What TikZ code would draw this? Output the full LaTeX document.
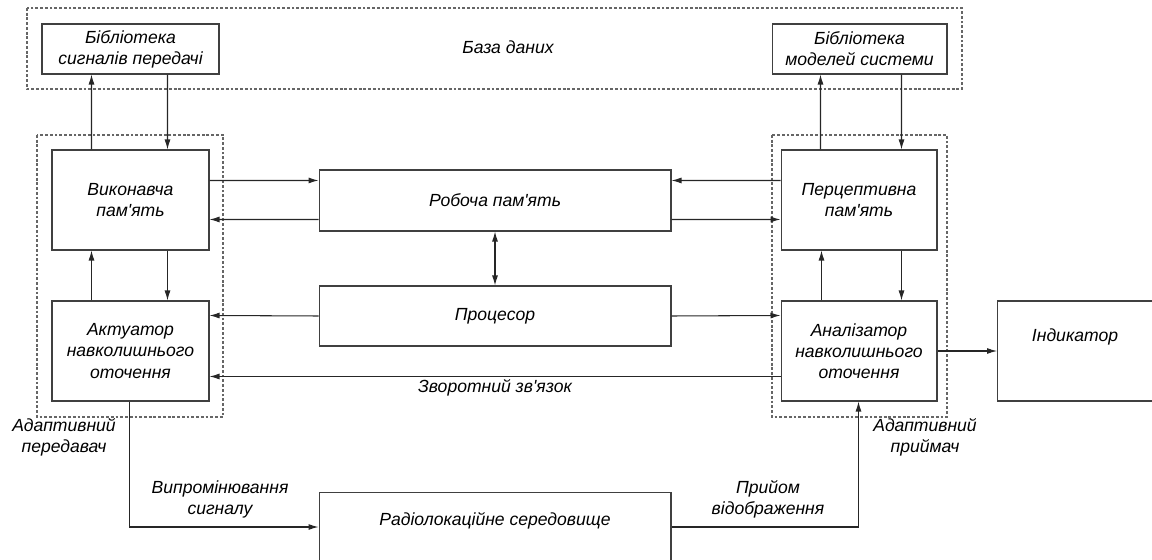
\documentclass[tikz,border=0pt]{standalone}
\usepackage{fontspec}
\setmainfont{Liberation Sans}[Ligatures=TeXOff]
\usetikzlibrary{arrows.meta,calc}

\begin{document}
\begin{tikzpicture}[x=0.02cm,y=-0.02cm,
  font=\fontsize{10}{12}\selectfont\itshape,
  blk/.style={draw=black!75, line width=0.6pt, align=center, inner sep=0pt},
  grp/.style={draw=black!60, line width=0.6pt, dash pattern=on 1.6pt off 1.1pt},
  link/.style={draw=black!85, line width=0.6pt, -{Latex[length=2mm,width=1.2mm]}},
  lbl/.style={align=center, inner sep=0pt}]
\useasboundingbox (0,0) rectangle (1152,560);
\clip (0,0) rectangle (1152,560);

% grouping frames
\draw[grp] (27,8) rectangle (962,89);
\draw[grp] (37,135) rectangle (223,417);
\draw[grp] (772,135) rectangle (947,417);

% database
\node[blk, minimum width=3.54cm, minimum height=1cm] (libS) at (130.5,49) {Бібліотека\\сигналів передачі};
\node[blk, minimum width=3.5cm, minimum height=1cm] (libM) at (859.5,49) {Бібліотека\\моделей системи};
\node[lbl] (db) at (508,47) {База даних};

% transmitter side
\node[blk, minimum width=3.14cm, minimum height=2cm] (exec) at (130.5,200) {Виконавча\\пам'ять};
\node[blk, minimum width=3.14cm, minimum height=2cm] (act) at (130.5,351) {Актуатор\\навколишнього\\оточення};

% central blocks
\node[blk, minimum width=7.04cm, minimum height=1.22cm] (work) at (495,200.5) {Робоча пам'ять};
\node[blk, minimum width=7.04cm, minimum height=1.2cm] (proc) at (495,316) {Процесор};

% receiver side
\node[blk, minimum width=3.12cm, minimum height=2cm] (perc) at (859,200) {Перцептивна\\пам'ять};
\node[blk, minimum width=3.12cm, minimum height=2cm] (anal) at (859,351) {Аналізатор\\навколишнього\\оточення};

% indicator and radar environment
\node[blk, minimum width=3.3cm, minimum height=2cm, anchor=west] (ind) at (997,351) {};
\node[lbl] (indText) at (1075,337) {Індикатор};
\node[blk, minimum width=7.04cm, minimum height=2.4cm, anchor=north] (radio) at (495,492) {};
\node[lbl] (radioText) at (495,521) {Радіолокаційне середовище};

% captions
\node[lbl] (txLabel) at (64,437) {Адаптивний\\передавач};
\node[lbl] (rxLabel) at (925,437) {Адаптивний\\приймач};
\node[lbl] (emit) at (220,499) {Випромінювання\\сигналу};
\node[lbl] (recv) at (768,499) {Прийом\\відображення};
\node[lbl] (fb) at (495,388) {Зворотний зв'язок};

% database links
\draw[link] ($(exec.north west)+(40,0)$) -- ($(libS.south west)+(50,0)$);
\draw[link] ($(libS.south west)+(126,0)$) -- ($(exec.north west)+(116,0)$);
\draw[link] ($(perc.north west)+(40,0)$) -- ($(libM.south west)+(49,0)$);
\draw[link] ($(libM.south west)+(130,0)$) -- ($(perc.north west)+(121,0)$);

% inside the transmitter
\draw[link] ($(act.north west)+(40,0)$) -- ($(exec.south west)+(40,0)$);
\draw[link] ($(exec.south west)+(116,0)$) -- ($(act.north west)+(116,0)$);

% inside the receiver
\draw[link] ($(anal.north west)+(41,0)$) -- ($(perc.south west)+(41,0)$);
\draw[link] ($(perc.south west)+(121,0)$) -- ($(anal.north west)+(121,0)$);

% working memory exchanges
\draw[link] ($(exec.north east)+(0,31)$) -- ($(work.north west)+(0,11)$);
\draw[link] ($(work.north west)+(0,50)$) -- ($(exec.north east)+(0,70)$);
\draw[link] ($(perc.north west)+(0,31)$) -- ($(work.north east)+(0,11)$);
\draw[link] ($(work.north east)+(0,50)$) -- ($(perc.north west)+(0,70)$);
\draw[link, {Latex[length=2mm,width=1.2mm]}-{Latex[length=2mm,width=1.2mm]}] (work.south) -- (proc.north);

% processor control
\draw[link] (proc.west) -- ($(act.north east)+(0,15)$);
\draw[link] (proc.east) -- ($(anal.north west)+(0,15)$);

% feedback and output
\draw[link] ($(anal.north west)+(0,76)$) -- ($(act.north east)+(0,76)$);
\draw[link] (anal.east) -- (ind.west);

% radiation and reception
\draw[link] ($(act.south west)+(78,0)$) |- ($(radio.north west)+(0,35)$);
\draw[link] ($(radio.north east)+(0,35)$) -| ($(anal.south west)+(78,0)$);
\end{tikzpicture}
\end{document}
